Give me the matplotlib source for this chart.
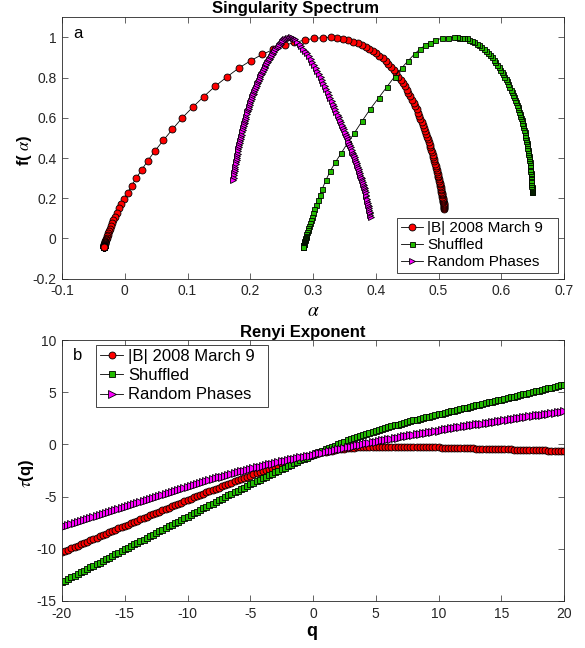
import matplotlib
matplotlib.use("Agg")
import matplotlib.pyplot as plt
from matplotlib.ticker import FuncFormatter

# ---------------- data ----------------
Q = [
    -20, -19.75, -19.5, -19.25, -19, -18.75, -18.5, -18.25,
    -18, -17.75, -17.5, -17.25, -17, -16.75, -16.5, -16.25,
    -16, -15.75, -15.5, -15.25, -15, -14.75, -14.5, -14.25,
    -14, -13.75, -13.5, -13.25, -13, -12.75, -12.5, -12.25,
    -12, -11.75, -11.5, -11.25, -11, -10.75, -10.5, -10.25,
    -10, -9.75, -9.5, -9.25, -9, -8.75, -8.5, -8.25,
    -8, -7.75, -7.5, -7.25, -7, -6.75, -6.5, -6.25,
    -6, -5.75, -5.5, -5.25, -5, -4.75, -4.5, -4.25,
    -4, -3.75, -3.5, -3.25, -3, -2.75, -2.5, -2.25,
    -2, -1.75, -1.5, -1.25, -1, -0.75, -0.5, -0.25,
    0, 0.25, 0.5, 0.75, 1, 1.25, 1.5, 1.75,
    2, 2.25, 2.5, 2.75, 3, 3.25, 3.5, 3.75,
    4, 4.25, 4.5, 4.75, 5, 5.25, 5.5, 5.75,
    6, 6.25, 6.5, 6.75, 7, 7.25, 7.5, 7.75,
    8, 8.25, 8.5, 8.75, 9, 9.25, 9.5, 9.75,
    10, 10.25, 10.5, 10.75, 11, 11.25, 11.5, 11.75,
    12, 12.25, 12.5, 12.75, 13, 13.25, 13.5, 13.75,
    14, 14.25, 14.5, 14.75, 15, 15.25, 15.5, 15.75,
    16, 16.25, 16.5, 16.75, 17, 17.25, 17.5, 17.75,
    18, 18.25, 18.5, 18.75, 19, 19.25, 19.5, 19.75,
    20,
]

# |B| 2008 March 9
RED_ALPHA = [
    .5094, .5091, .5089, .5087, .5085, .5082, .5080, .5077,
    .5074, .5071, .5068, .5065, .5061, .5058, .5054, .5050,
    .5046, .5042, .5037, .5032, .5027, .5022, .5017, .5011,
    .5005, .4999, .4992, .4985, .4978, .4970, .4962, .4954,
    .4945, .4936, .4926, .4916, .4906, .4895, .4883, .4871,
    .4859, .4845, .4831, .4817, .4801, .4785, .4769, .4751,
    .4733, .4713, .4693, .4672, .4650, .4626, .4602, .4576,
    .4550, .4521, .4492, .4461, .4429, .4395, .4360, .4323,
    .4284, .4243, .4200, .4160, .4110, .4057, .4004, .3953,
    .3900, .3842, .3778, .3714, .3644, .3564, .3484, .3388,
    .3290, .3165, .3020, .2870, .2705, .2554, .2370, .2187,
    .2007, .1815, .1630, .1440, .1260, .1080, .0910, .0760,
    .0615, .0480, .0365, .0270, .0180, .0110, .0047, -.0007,
    -.0060, -.0092, -.0124, -.0154, -.0180, -.0202, -.0221, -.0237,
    -.0251, -.0263, -.0273, -.0282, -.0290, -.0296, -.0302, -.0307,
    -.0311, -.0314, -.0318, -.0320, -.0322, -.0324, -.0326, -.0327,
    -.0329, -.0330, -.0331, -.0331, -.0332, -.0333, -.0333, -.0333,
    -.0334, -.0334, -.0334, -.0335, -.0335, -.0335, -.0335, -.0335,
    -.0335, -.0336, -.0336, -.0336, -.0336, -.0336, -.0336, -.0336,
    -.0336, -.0336, -.0336, -.0336, -.0336, -.0336, -.0336, -.0336,
    -.0336,
]
RED_F = [
    .1490, .1531, .1573, .1616, .1662, .1708, .1756, .1806,
    .1858, .1911, .1966, .2023, .2081, .2142, .2205, .2269,
    .2336, .2405, .2475, .2549, .2624, .2701, .2781, .2864,
    .2949, .3036, .3126, .3218, .3313, .3411, .3511, .3614,
    .3720, .3829, .3940, .4054, .4171, .4291, .4414, .4539,
    .4668, .4799, .4933, .5070, .5210, .5352, .5497, .5644,
    .5793, .5945, .6100, .6256, .6415, .6575, .6736, .6899,
    .7064, .7228, .7394, .7560, .7724, .7890, .8054, .8216,
    .8377, .8535, .8690, .8820, .8960, .9090, .9220, .9340,
    .9440, .9530, .9620, .9700, .9790, .9870, .9940, .9990,
    1.000, .9990, .9950, .9870, .9750, .9610, .9400, .9150,
    .8840, .8470, .8040, .7570, .7060, .6520, .5980, .5430,
    .4880, .4350, .3860, .3410, .2990, .2630, .2280, .1980,
    .1710, .1500, .1280, .1082, .0904, .0747, .0607, .0483,
    .0373, .0275, .0189, .0113, .0045, -.0014, -.0067, -.0113,
    -.0154, -.0190, -.0222, -.0249, -.0274, -.0295, -.0314, -.0331,
    -.0345, -.0358, -.0369, -.0379, -.0387, -.0395, -.0401, -.0407,
    -.0412, -.0416, -.0420, -.0423, -.0426, -.0429, -.0431, -.0433,
    -.0435, -.0437, -.0438, -.0439, -.0440, -.0441, -.0442, -.0443,
    -.0443, -.0444, -.0444, -.0445, -.0445, -.0445, -.0446, -.0446,
    -.0446,
]
RED_TAU = [
    -10.337, -10.210, -10.083, -9.955, -9.828, -9.701, -9.574, -9.446,
    -9.319, -9.192, -9.066, -8.939, -8.812, -8.686, -8.560, -8.433,
    -8.307, -8.181, -8.055, -7.929, -7.803, -7.678, -7.553, -7.427,
    -7.302, -7.177, -7.053, -6.928, -6.803, -6.679, -6.555, -6.430,
    -6.306, -6.183, -6.060, -5.937, -5.814, -5.692, -5.570, -5.448,
    -5.326, -5.205, -5.084, -4.963, -4.842, -4.723, -4.604, -4.485,
    -4.366, -4.249, -4.132, -4.014, -3.897, -3.782, -3.667, -3.551,
    -3.436, -3.324, -3.212, -3.099, -2.987, -2.878, -2.769, -2.660,
    -2.551, -2.445, -2.339, -2.234, -2.129, -2.025, -1.923, -1.823,
    -1.724, -1.625, -1.529, -1.434, -1.343, -1.254, -1.168, -1.084,
    -1.000, -0.920, -0.844, -0.772, -0.705, -0.642, -0.585, -0.532,
    -0.483, -0.439, -0.397, -0.361, -0.328, -0.301, -0.280, -0.258,
    -0.242, -0.231, -0.222, -0.213, -0.209, -0.205, -0.202, -0.202,
    -0.207, -0.208, -0.209, -0.212, -0.216, -0.222, -0.227, -0.233,
    -0.238, -0.245, -0.252, -0.259, -0.266, -0.273, -0.281, -0.288,
    -0.296, -0.304, -0.311, -0.319, -0.327, -0.335, -0.344, -0.352,
    -0.360, -0.368, -0.377, -0.385, -0.393, -0.401, -0.410, -0.418,
    -0.426, -0.435, -0.443, -0.452, -0.460, -0.468, -0.476, -0.485,
    -0.493, -0.501, -0.510, -0.518, -0.527, -0.535, -0.544, -0.552,
    -0.561, -0.569, -0.577, -0.586, -0.594, -0.602, -0.611, -0.619,
    -0.627,
]

# Shuffled
GREEN_ALPHA = [
    .6488, .6487, .6486, .6486, .6485, .6484, .6483, .6482,
    .6481, .6479, .6477, .6475, .6473, .6470, .6468, .6465,
    .6462, .6458, .6455, .6451, .6447, .6442, .6438, .6433,
    .6428, .6422, .6417, .6411, .6405, .6399, .6393, .6386,
    .6380, .6371, .6363, .6354, .6345, .6335, .6325, .6315,
    .6305, .6294, .6283, .6271, .6260, .6245, .6230, .6215,
    .6200, .6183, .6165, .6148, .6130, .6110, .6090, .6070,
    .6050, .6028, .6005, .5983, .5960, .5933, .5905, .5878,
    .5850, .5818, .5785, .5753, .5720, .5683, .5645, .5608,
    .5570, .5530, .5490, .5450, .5410, .5370, .5330, .5290,
    .5250, .5150, .5050, .4950, .4865, .4785, .4705, .4620,
    .4520, .4413, .4300, .4180, .4050, .3915, .3785, .3660,
    .3550, .3450, .3355, .3275, .3205, .3145, .3109, .3076,
    .3048, .3023, .3001, .2981, .2964, .2949, .2936, .2924,
    .2913, .2904, .2896, .2889, .2883, .2877, .2872, .2868,
    .2864, .2860, .2858, .2855, .2853, .2850, .2849, .2847,
    .2846, .2844, .2843, .2842, .2841, .2841, .2840, .2839,
    .2839, .2838, .2838, .2838, .2837, .2837, .2837, .2837,
    .2836, .2836, .2836, .2836, .2836, .2836, .2836, .2836,
    .2836, .2836, .2835, .2835, .2835, .2835, .2835, .2835,
    .2835,
]
GREEN_F = [
    .2290, .2320, .2360, .2405, .2462, .2519, .2576, .2633,
    .2690, .2805, .2919, .3033, .3121, .3213, .3274, .3367,
    .3459, .3582, .3674, .3797, .3920, .4020, .4100, .4200,
    .4300, .4420, .4520, .4640, .4760, .4854, .4948, .5058,
    .5152, .5292, .5418, .5559, .5663, .5768, .5873, .5979,
    .6084, .6199, .6315, .6437, .6527, .6651, .6775, .6899,
    .7022, .7150, .7278, .7398, .7526, .7667, .7809, .7924,
    .8034, .8156, .8282, .8403, .8514, .8642, .8774, .8901,
    .9001, .9110, .9222, .9322, .9415, .9518, .9610, .9679,
    .9750, .9819, .9884, .9950, .9980, .9990, .9995, .9998,
    1.000, .9990, .9950, .9860, .9740, .9600, .9420, .9180,
    .8850, .8480, .8050, .7550, .7000, .6450, .5850, .5250,
    .4740, .4250, .3780, .3350, .2900, .2450, .2170, .1909,
    .1669, .1448, .1248, .1066, .0902, .0755, .0622, .0504,
    .0398, .0303, .0218, .0144, .0076, .0018, -.0035, -.0082,
    -.0124, -.0161, -.0192, -.0222, -.0247, -.0270, -.0290, -.0307,
    -.0322, -.0335, -.0348, -.0359, -.0369, -.0377, -.0384, -.0391,
    -.0397, -.0402, -.0407, -.0410, -.0413, -.0417, -.0420, -.0422,
    -.0424, -.0426, -.0428, -.0429, -.0430, -.0432, -.0433, -.0434,
    -.0435, -.0436, -.0436, -.0437, -.0438, -.0438, -.0439, -.0439,
    -.0440,
]
GREEN_TAU = [
    -13.205, -13.046, -12.887, -12.727, -12.568, -12.410, -12.252, -12.093,
    -11.935, -11.780, -11.626, -11.471, -11.316, -11.158, -11.001, -10.843,
    -10.685, -10.530, -10.374, -10.219, -10.063, -9.904, -9.746, -9.588,
    -9.429, -9.273, -9.116, -8.960, -8.803, -8.645, -8.487, -8.329,
    -8.171, -8.015, -7.859, -7.702, -7.546, -7.388, -7.230, -7.071,
    -6.913, -6.757, -6.600, -6.444, -6.287, -6.131, -5.975, -5.818,
    -5.662, -5.508, -5.353, -5.199, -5.044, -4.891, -4.739, -4.586,
    -4.433, -4.283, -4.132, -3.982, -3.831, -3.683, -3.536, -3.388,
    -3.240, -3.095, -2.949, -2.804, -2.658, -2.516, -2.374, -2.231,
    -2.089, -1.950, -1.812, -1.676, -1.539, -1.402, -1.266, -1.132,
    -1.000, -0.870, -0.743, -0.615, -0.488, -0.362, -0.236, -0.110,
    0.019, 0.145, 0.270, 0.395, 0.515, 0.627, 0.740, 0.848,
    0.946, 1.041, 1.132, 1.221, 1.313, 1.406, 1.493, 1.578,
    1.662, 1.743, 1.824, 1.904, 1.985, 2.062, 2.138, 2.215,
    2.291, 2.365, 2.439, 2.513, 2.587, 2.659, 2.732, 2.804,
    2.876, 2.948, 3.020, 3.091, 3.163, 3.234, 3.305, 3.376,
    3.447, 3.518, 3.589, 3.659, 3.730, 3.801, 3.872, 3.943,
    4.014, 4.085, 4.156, 4.226, 4.297, 4.368, 4.439, 4.509,
    4.580, 4.651, 4.722, 4.793, 4.864, 4.935, 5.006, 5.077,
    5.148, 5.219, 5.289, 5.360, 5.430, 5.501, 5.572, 5.643,
    5.714,
]

# Random Phases
MAG_ALPHA = [
    .3920, .3914, .3909, .3903, .3898, .3891, .3885, .3879,
    .3873, .3866, .3859, .3852, .3846, .3838, .3831, .3823,
    .3816, .3808, .3800, .3791, .3783, .3774, .3765, .3756,
    .3747, .3737, .3727, .3718, .3708, .3697, .3686, .3675,
    .3664, .3652, .3640, .3629, .3617, .3603, .3590, .3577,
    .3564, .3550, .3535, .3521, .3506, .3491, .3475, .3459,
    .3443, .3426, .3408, .3391, .3374, .3354, .3335, .3316,
    .3297, .3276, .3255, .3234, .3213, .3190, .3167, .3144,
    .3121, .3095, .3070, .3044, .3019, .2991, .2963, .2935,
    .2907, .2877, .2846, .2816, .2785, .2751, .2718, .2684,
    .2650, .2627, .2603, .2580, .2557, .2540, .2523, .2506,
    .2489, .2471, .2453, .2435, .2417, .2400, .2383, .2366,
    .2349, .2334, .2318, .2302, .2287, .2272, .2258, .2243,
    .2228, .2215, .2201, .2188, .2174, .2161, .2149, .2136,
    .2123, .2112, .2100, .2088, .2076, .2065, .2054, .2043,
    .2032, .2022, .2012, .2002, .1992, .1982, .1973, .1963,
    .1954, .1945, .1936, .1927, .1918, .1910, .1902, .1894,
    .1885, .1877, .1870, .1862, .1854, .1847, .1840, .1833,
    .1826, .1819, .1812, .1806, .1799, .1793, .1787, .1781,
    .1775, .1769, .1763, .1757, .1751, .1746, .1741, .1735,
    .1730,
]
MAG_F = [
    .1080, .1170, .1245, .1334, .1408, .1512, .1601, .1690,
    .1778, .1882, .1986, .2090, .2178, .2297, .2400, .2490,
    .2560, .2641, .2722, .2812, .2893, .2984, .3075, .3165,
    .3256, .3357, .3458, .3548, .3649, .3760, .3852, .3943,
    .4035, .4134, .4234, .4325, .4425, .4542, .4650, .4758,
    .4866, .4982, .5104, .5208, .5318, .5428, .5546, .5664,
    .5782, .5907, .6039, .6164, .6289, .6434, .6572, .6710,
    .6847, .6999, .7152, .7304, .7451, .7596, .7741, .7885,
    .8030, .8194, .8351, .8498, .8629, .8775, .8921, .9067,
    .9213, .9333, .9446, .9554, .9667, .9790, .9903, .9976,
    1.000, .9994, .9975, .9945, .9903, .9864, .9817, .9751,
    .9687, .9620, .9552, .9484, .9416, .9353, .9275, .9190,
    .9105, .9030, .8950, .8870, .8795, .8720, .8645, .8550,
    .8454, .8372, .8283, .8200, .8111, .8028, .7952, .7856,
    .7752, .7664, .7568, .7472, .7376, .7288, .7200, .7112,
    .7013, .6918, .6822, .6727, .6632, .6536, .6451, .6355,
    .6270, .6168, .6065, .5961, .5857, .5765, .5673, .5581,
    .5478, .5378, .5279, .5167, .5054, .4956, .4857, .4759,
    .4660, .4555, .4434, .4331, .4210, .4106, .4002, .3898,
    .3795, .3683, .3567, .3451, .3335, .3239, .3142, .3027,
    .2930,
]
MAG_TAU = [
    -7.948, -7.848, -7.748, -7.647, -7.547, -7.448, -7.348, -7.249,
    -7.149, -7.051, -6.953, -6.854, -6.756, -6.658, -6.559, -6.461,
    -6.362, -6.263, -6.163, -6.064, -5.964, -5.866, -5.768, -5.669,
    -5.571, -5.475, -5.378, -5.282, -5.185, -5.089, -4.993, -4.896,
    -4.800, -4.705, -4.611, -4.516, -4.421, -4.329, -4.236, -4.144,
    -4.051, -3.960, -3.869, -3.778, -3.687, -3.599, -3.510, -3.422,
    -3.333, -3.248, -3.162, -3.077, -2.991, -2.909, -2.827, -2.745,
    -2.663, -2.585, -2.508, -2.430, -2.352, -2.277, -2.202, -2.126,
    -2.051, -1.981, -1.910, -1.840, -1.769, -1.703, -1.636, -1.570,
    -1.503, -1.437, -1.372, -1.307, -1.245, -1.185, -1.126, -1.065,
    -1.000, -0.934, -0.867, -0.801, -0.735, -0.669, -0.603, -0.537,
    -0.471, -0.407, -0.344, -0.280, -0.217, -0.155, -0.094, -0.032,
    0.029, 0.088, 0.147, 0.205, 0.264, 0.321, 0.378, 0.434,
    0.491, 0.546, 0.601, 0.656, 0.711, 0.764, 0.817, 0.870,
    0.923, 0.975, 1.027, 1.079, 1.131, 1.181, 1.231, 1.281,
    1.331, 1.380, 1.429, 1.479, 1.528, 1.575, 1.623, 1.670,
    1.718, 1.765, 1.813, 1.860, 1.908, 1.954, 2.000, 2.045,
    2.091, 2.137, 2.183, 2.230, 2.276, 2.321, 2.366, 2.411,
    2.456, 2.501, 2.547, 2.592, 2.637, 2.682, 2.726, 2.771,
    2.816, 2.860, 2.905, 2.949, 2.993, 3.037, 3.080, 3.124,
    3.167,
]

LABELS = ["|B| 2008 March 9", "Shuffled", "Random Phases"]
XTICKS_TOP = [-0.1, 0, 0.1, 0.2, 0.3, 0.4, 0.5, 0.6, 0.7]
YTICKS_TOP = [-0.2, 0, 0.2, 0.4, 0.6, 0.8, 1]
XTICKS_BOT = [-20, -15, -10, -5, 0, 5, 10, 15, 20]
YTICKS_BOT = [-15, -10, -5, 0, 5, 10]

# ---------------- figure ----------------
plt.rcParams["font.family"] = ["Liberation Sans", "DejaVu Sans"]
plt.rcParams["mathtext.fontset"] = "stix"

W, H = 585, 648
fig = plt.figure(figsize=(W / 100, H / 100), dpi=100)
ax1 = fig.add_axes([62 / W, 1 - 278.7 / H, 502 / W, 261.4 / H])
ax2 = fig.add_axes([62 / W, 1 - 601 / H, 502 / W, 261 / H])

EDGE = "#262626"
styles = [
    (RED_ALPHA, RED_F, RED_TAU, "#ff0000", "o", 5.0, 5.0),
    (GREEN_ALPHA, GREEN_F, GREEN_TAU, "#22bb00", "s", 3.6, 4.2),
    (MAG_ALPHA, MAG_F, MAG_TAU, "#ff00ff", ">", 4.8, 5.2),
]
for (a, f, t, col, mk, ms1, ms2), lab in zip(styles, LABELS):
    ax1.plot(a, f, "-", color="k", lw=0.6, marker=mk, ms=ms1, mfc=col,
             mec="k", mew=0.6, label=lab)
    ax2.plot(Q, t, "-", color="k", lw=0.6, marker=mk, ms=ms2, mfc=col,
             mec="k", mew=0.6, label=lab)

fmt = FuncFormatter(lambda v, p: f"{round(v, 3):g}")
for ax in (ax1, ax2):
    for s in ax.spines.values():
        s.set_color(EDGE)
        s.set_linewidth(0.6)
    ax.tick_params(direction="in", length=4, width=0.5, top=True, right=True,
                   colors=EDGE, labelsize=10, pad=4)
    ax.xaxis.set_major_formatter(fmt)
    ax.yaxis.set_major_formatter(fmt)

ax1.set_xlim(-0.1, 0.7)
ax1.set_ylim(-0.2, 1.1)
ax1.set_xticks(XTICKS_TOP)
ax1.set_yticks(YTICKS_TOP)
ax2.set_xlim(-20, 20)
ax2.set_ylim(-15, 10)
ax2.set_xticks(XTICKS_BOT)
ax2.set_yticks(YTICKS_BOT)

leg_kw = dict(frameon=True, fancybox=False, framealpha=1, edgecolor=EDGE,
              handlelength=1.4, handletextpad=0.3, borderpad=0.25,
              borderaxespad=0, mode="expand", numpoints=1)
l1 = ax1.legend(loc="lower left", bbox_to_anchor=(0.668, 0.0207, 0.3207, 0.223),
                fontsize=11, labelspacing=0.2, **leg_kw)
l1.get_frame().set_linewidth(0.6)
l2 = ax2.legend(loc="upper left", bbox_to_anchor=(0.0677, 0.732, 0.343, 0.249),
                fontsize=12, labelspacing=0.25, **leg_kw)
l2.get_frame().set_linewidth(0.6)

# texts
fig.text(296 / W, 1 - 8.5 / H, "Singularity Spectrum", fontsize=12,
         fontweight="bold", ha="center", va="center")
fig.text(303 / W, 1 - 332 / H, "Renyi Exponent", fontsize=12,
         fontweight="bold", ha="center", va="center")
fig.text(77.5 / W, 1 - 33 / H, "a", fontsize=12, ha="center", va="center")
fig.text(78 / W, 1 - 355 / H, "b", fontsize=12, ha="center", va="center")
fig.text(313 / W, 1 - 311 / H, r"$\alpha$", fontsize=14, ha="center", va="center")
fig.text(312 / W, 1 - 632 / H, "q", fontsize=13, fontweight="bold",
         ha="center", va="center")
fig.text(24 / W, 1 - 150 / H, r"f( $\alpha$)", fontsize=12, fontweight="bold",
         rotation=90, ha="center", va="center")
fig.text(27 / W, 1 - 473 / H, r"$\tau$(q)", fontsize=12, fontweight="bold",
         rotation=90, ha="center", va="center")

fig.savefig("out.png", dpi=100)
